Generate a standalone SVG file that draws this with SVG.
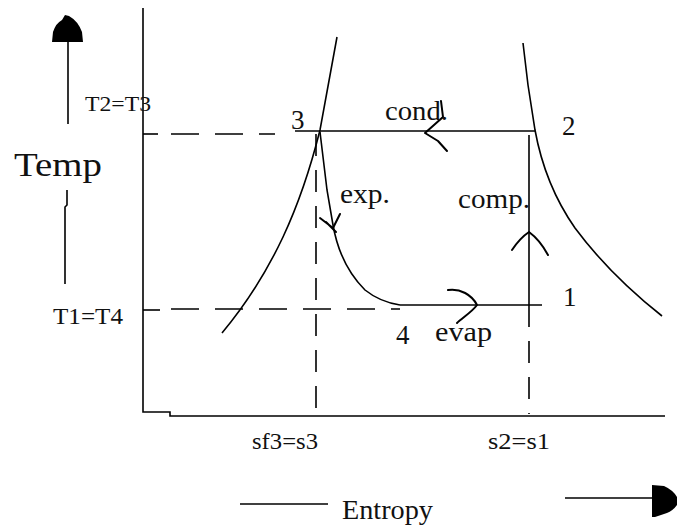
<svg xmlns="http://www.w3.org/2000/svg" width="677" height="529" viewBox="0 0 677 529">
<style>
.ln{fill:none;stroke:#000;stroke-width:1.6;stroke-linecap:butt}
.dash{fill:none;stroke:#000;stroke-width:1.6;stroke-dasharray:28,16}
.dv{fill:none;stroke:#000;stroke-width:1.6;stroke-dasharray:22,14}
.sk{fill:none;stroke:#000;stroke-width:2;stroke-linejoin:round;stroke-linecap:round}
.t{font-family:"Liberation Serif","Times New Roman",serif;fill:#111}
.blob{fill:#000}
</style>
<rect width="677" height="529" fill="#fff"/>
<g id="axes">
  <path class="ln" d="M143,8 L143,412 L170,412 L170,416 L665,416"/>
  <path class="ln" d="M143,134 L158,134"/>
  <path class="ln" d="M143,310 L160,310"/>
</g>
<g id="temp-axis">
  <path class="ln" d="M68,42 L68,124"/>
  <path class="ln" d="M67,190 L67,205 L65,207 L65,284"/>
  <path class="blob" d="M52,42 L53,32 Q56,23 62,20 L65,15 L69,16 Q78,21 82,32 L83,42 Z"/>
  <text class="t" x="14" y="176" font-size="34" textLength="88" lengthAdjust="spacingAndGlyphs">Temp</text>
  <text class="t" x="85" y="111" font-size="22" textLength="66" lengthAdjust="spacingAndGlyphs">T2=T3</text>
  <text class="t" x="53" y="324" font-size="23" textLength="70" lengthAdjust="spacingAndGlyphs">T1=T4</text>
</g>
<g id="entropy-axis">
  <path class="ln" d="M240,504 L328,504"/>
  <text class="t" x="342" y="519" font-size="28" textLength="91" lengthAdjust="spacingAndGlyphs">Entropy</text>
  <path class="ln" d="M565,498 L653,498"/>
  <path class="blob" d="M652,485 L664,486 Q673,490 677,497 L677,505 Q672,512 664,514 L655,517 L652,517 Z"/>
</g>
<g id="dome">
  <path class="ln" d="M337,37 L320,130 Q305,190 283,237 Q258,290 222,333"/>
  <path class="ln" d="M523,43 L528,85 L535,130 Q545,185 575,228 Q610,275 662,316"/>
</g>
<g id="guides">
  <path class="dash" d="M171,134 L275,134"/>
  <path class="dash" d="M171,309 L400,309"/>
  <path class="dv" d="M316,134 L316,414"/>
  <path class="dv" d="M529,305 L529,414"/>
</g>
<g id="connectors">
  <path class="ln" d="M295,131 L535,131"/>
  <path class="ln" d="M529,135 L529,305"/>
  <path class="ln" d="M400,305 L542,305"/>
  <path class="ln" d="M320,132 L327,190 L333,225 Q340,265 365,290 Q380,302 400,305"/>
  <path class="sk" d="M441,101 L443,117 L425,133 L438,141 L447,151"/>
  <path class="sk" d="M512,250 Q520,238 529,232 Q540,240 548,255"/>
  <path class="sk" d="M448,290 C460,288 472,295 477,305 C472,312 462,318 457,323"/>
  <path class="sk" d="M320,218 L333,228 L340,214 M326,222 L336,232"/>
</g>
<g id="point-3"><text class="t" x="291" y="129" font-size="27">3</text></g>
<g id="point-2"><text class="t" x="562" y="135" font-size="27">2</text></g>
<g id="point-1"><text class="t" x="563" y="306" font-size="27">1</text></g>
<g id="point-4"><text class="t" x="396" y="344" font-size="27">4</text></g>
<g id="labels">
  <text class="t" x="385" y="120" font-size="27" textLength="63" lengthAdjust="spacingAndGlyphs">cond.</text>
  <text class="t" x="340" y="203" font-size="27" textLength="50" lengthAdjust="spacingAndGlyphs">exp.</text>
  <text class="t" x="458" y="208" font-size="27" textLength="72" lengthAdjust="spacingAndGlyphs">comp.</text>
  <text class="t" x="435" y="341" font-size="27" textLength="57" lengthAdjust="spacingAndGlyphs">evap</text>
  <text class="t" x="252" y="449" font-size="23" textLength="66" lengthAdjust="spacingAndGlyphs">sf3=s3</text>
  <text class="t" x="488" y="449" font-size="23" textLength="62" lengthAdjust="spacingAndGlyphs">s2=s1</text>
</g>
</svg>
